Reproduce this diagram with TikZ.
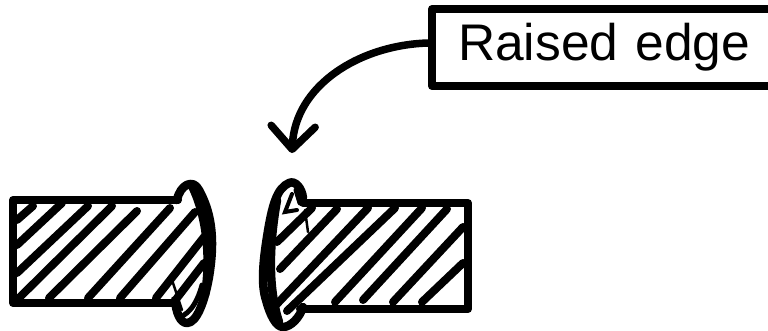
\documentclass[tikz,border=0pt]{standalone}
\usepackage{fontspec}
\setmainfont{Liberation Sans}
\usetikzlibrary{arrows.meta}
\tikzset{
  outline/.style={line width=8pt, line cap=round, line join=round},
  hatchline/.style={line width=8pt, line cap=round},
  thinstroke/.style={line width=2.5pt, line cap=round},
  blobstroke/.style={line width=8.5pt, line cap=round, line join=round},
  labelbox/.style={draw, line width=8pt, line join=round, anchor=west, minimum width=360pt, minimum height=77pt, text width=320pt, inner xsep=26pt, align=left, font=\fontsize{51.5}{56}\selectfont},
}
\begin{document}
\begin{tikzpicture}
\def\pxsz{1pt}
\begin{scope}[x=\pxsz, y=-\pxsz]
  % Page size, the label box runs off on the right
  \path[use as bounding box, clip] (0,0) rectangle (768,330);
  % Label and arrow
  \node[labelbox] (raised) at (428,47.5) {Raised edge};
  \coordinate (edgetip) at (292,153);
  \draw[line width=7.5pt, line cap=round, -{Straight Barb[round, length=23pt, width=44pt, line width=7.5pt]}] ([yshift=4.5pt]raised.west) .. controls (360,45) and (295,85) .. (edgetip);
  % Left piece
  \draw[outline] (178,200) -- (13,200) -- (13,303) -- (176,303);
  \begin{scope}[hatchline]
    \draw (17,220) -- (33,206);
    \draw (17,245) -- (62,203);
    \draw (17,273) -- (88,206);
    \draw (20,297) -- (112,206);
    \draw (49,298) -- (137,211);
    \draw (88,298) -- (170,208);
    \draw (120,298) -- (195,212);
    \draw (156,298) -- (204,237);
    \draw (177,298) -- (204,263);
  \end{scope}
  \draw[thinstroke] (172,280) -- (182,310);
  \draw[blobstroke] (177,200) .. controls (180,185) and (193,178) .. (199,190) .. controls (210,210) and (216,235) .. (209,277) .. controls (205,300) and (197,323) .. (187,323) .. controls (180,323) and (176,312) .. (175,300);
  \draw[blobstroke] (192,186) .. controls (204,210) and (212,250) .. (205,295);
  \draw[blobstroke, line width=5pt] (184,315) .. controls (192,310) and (198,300) .. (202,285);
  % Right piece
  \draw[outline] (303,203) -- (468,203) -- (468,309) -- (300,309);
  \begin{scope}[hatchline]
    \draw (277,242) -- (312,208);
    \draw (280,269) -- (337,209);
    \draw (276,305) -- (368,208);
    \draw (287,311) -- (395,208);
    \draw (335,302) -- (422,208);
    \draw (363,300) -- (447,209);
    \draw (393,302) -- (463,227);
    \draw (422,302) -- (463,263);
  \end{scope}
  \draw[thinstroke] (305,210) -- (308,232);
  \draw[line width=4pt, line cap=round] (292,194) -- (285,212) -- (297,210);
  \draw[blobstroke] (303,198) .. controls (302,188) and (295,180) .. (289,183) .. controls (277,188) and (272,205) .. (267,237) .. controls (263,262) and (261,285) .. (266,300) .. controls (270,315) and (276,327) .. (283,327) .. controls (291,327) and (300,317) .. (303,307);
  \draw[blobstroke] (277,200) .. controls (270,240) and (267,285) .. (279,322);
  \draw[blobstroke, line width=5pt] (296,190) -- (300,203);
\end{scope}
\end{tikzpicture}
\end{document}
